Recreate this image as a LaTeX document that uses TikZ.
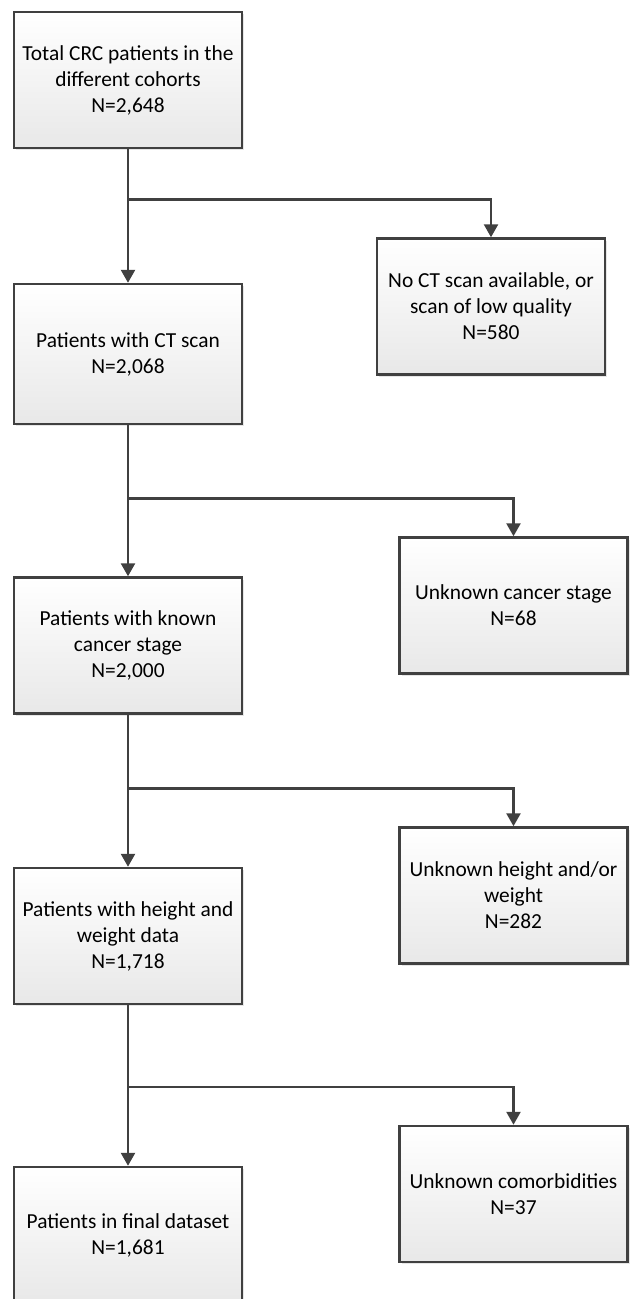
\documentclass[tikz,border=0pt]{standalone}
\usepackage{fontspec}
\setmainfont{Carlito}
\usepackage{tikz}
\usetikzlibrary{arrows.meta,positioning,shadows}

\definecolor{linegray}{RGB}{64,64,64}

\begin{document}
\begin{tikzpicture}[on grid,
	box/.style={rectangle,draw=linegray,line width=2.5pt,minimum width=228pt,minimum height=136pt,
		top color=white,bottom color=black!9,
		drop shadow={shadow xshift=2pt,shadow yshift=-2pt,opacity=0.2},
		align=center,inner sep=2pt,text=black,font=\fontsize{21.4pt}{26pt}\selectfont},
	flow/.style={draw=linegray,line width=2.5pt,-{Triangle[length=13pt,width=14pt]}}]
	\useasboundingbox (0,0) rectangle (630pt,-1299pt);

	\node[box] (total) at (128pt,-80pt) {Total CRC patients in the\\different cohorts\\N=2,648};
	\node[box,minimum height=140pt] (ct) [below=274pt of total] {Patients with CT scan\\N=2,068};
	\node[box] (noct) [above right=47.5pt and 363pt of ct] {No CT scan available, or\\scan of low quality\\N=580};

	\node[box] (stage) [below=291.5pt of ct] {Patients with known\\cancer stage\\N=2,000};
	\node[box] (nostage) [above right=40pt and 385.5pt of stage] {Unknown cancer stage\\N=68};

	\node[box] (hw) [below=290.5pt of stage] {Patients with height and\\weight data\\N=1,718};
	\node[box] (nohw) [above right=40.5pt and 385.5pt of hw] {Unknown height and/or\\weight\\N=282};

	\node[box] (final) [below=299pt of hw] {Patients in final dataset\\N=1,681};
	\node[box] (nocom) [above right=41pt and 385.5pt of final] {Unknown comorbidities\\N=37};

	% split points above the excluded boxes
	\coordinate[above=38pt of noct.north] (split1);
	\coordinate[above=38pt of nostage.north] (split2);
	\coordinate[above=38pt of nohw.north] (split3);
	\coordinate[above=38pt of nocom.north] (split4);

	\draw[flow] (total) -- (ct);
	\draw[flow] (ct) -- (stage);
	\draw[flow] (stage) -- (hw);
	\draw[flow] (hw) -- (final);

	\draw[flow] (split1 -| total) -| (noct);
	\draw[flow] (split2 -| ct) -| (nostage);
	\draw[flow] (split3 -| stage) -| (nohw);
	\draw[flow] (split4 -| hw) -| (nocom);
\end{tikzpicture}
\end{document}
